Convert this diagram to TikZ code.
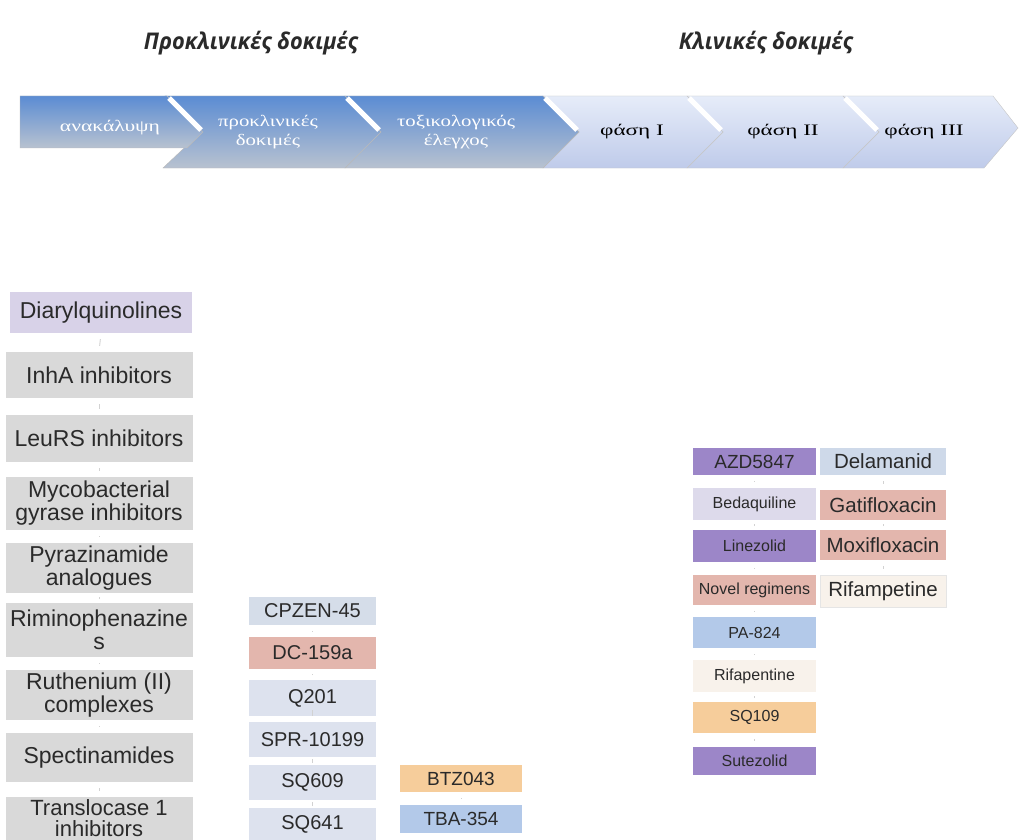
\documentclass[tikz,border=0pt]{standalone}
\usepackage{fontspec}
\setmainfont{Liberation Sans}
\newfontfamily\bandfont{Liberation Serif}
\newfontfamily\headfont{Open Sans}
\definecolor{txt}{HTML}{2A2A2A}
\definecolor{graybox}{HTML}{D9D9D9}
\definecolor{lav}{HTML}{D8D2E8}
\definecolor{lavlt}{HTML}{DDDAEB}
\definecolor{purp}{HTML}{9C86C8}
\definecolor{pinkb}{HTML}{E3B6AD}
\definecolor{bluelt}{HTML}{D5DDE9}
\definecolor{bluegr}{HTML}{DDE2EE}
\definecolor{blueb}{HTML}{B3C9E9}
\definecolor{orangeb}{HTML}{F6CD9B}
\definecolor{cream}{HTML}{F8F2EB}
\definecolor{bandtop}{HTML}{5B8CD3}
\definecolor{bandbot}{HTML}{B8C2D0}
\definecolor{lighttop}{HTML}{E6ECF9}
\definecolor{lightbot}{HTML}{BFCBEA}
\tikzset{
  box/.style={inner sep=0pt, align=center, text=txt},
  lbox/.style={box, fill=graybox, minimum width=187pt, font=\fontsize{23}{23}\selectfont},
  mbox/.style={box, minimum width=127pt, font=\fontsize{20}{21}\selectfont},
  nbox/.style={box, minimum width=122pt, font=\fontsize{19}{20}\selectfont},
  rbox/.style={box, minimum width=123pt, font=\fontsize{16}{17}\selectfont},
  sbox/.style={box, minimum width=126pt, font=\fontsize{20.5}{21}\selectfont},
  tick/.style={draw=gray!35, line width=0.9pt, shorten <=6pt, shorten >=6pt},
  head/.style={font=\headfont\bfseries\itshape\fontsize{23}{24}\selectfont, text=txt},
  bandw/.style={font=\bandfont\fontsize{16}{19}\selectfont, text=white, align=center},
  bandk/.style={font=\bandfont\fontsize{16}{19}\selectfont, text=black, align=center},
  darkseg/.style={top color=bandtop, bottom color=bandbot, draw=gray!55, line width=0.4pt},
  lightseg/.style={top color=lighttop, bottom color=lightbot, draw=gray!45, line width=0.4pt},
  bevel/.style={draw=white, line width=5pt, line cap=butt}
}
\begin{document}
\begin{tikzpicture}[x=1pt,y=-1pt]
\useasboundingbox (0,0) rectangle (1020,840);
\fill[white] (0,0) rectangle (1020,840);

% headers
\node[head] (h1) at (251,43) {\scalebox{0.95}[1]{Προκλινικές δοκιμές}};
\node[head] (h2) at (766,43) {\scalebox{0.95}[1]{Κλινικές δοκιμές}};

% process band
\path[lightseg] (843,96) -- (993,96) -- (1018,128) -- (984,168) -- (843,168) -- (879,132) -- cycle;
\path[lightseg] (687,96) -- (843,96) -- (879,132) -- (843,168) -- (687,168) -- (723,132) -- cycle;
\path[lightseg] (543,96) -- (687,96) -- (723,132) -- (687,168) -- (543,168) -- (579,132) -- cycle;
\path[darkseg] (345,96) -- (543,96) -- (579,132) -- (543,168) -- (345,168) -- (381,132) -- cycle;
\path[darkseg] (165,96) -- (345,96) -- (381,132) -- (345,168) -- (163,168) -- (201,132) -- cycle;
\path[darkseg] (20,96) -- (167,96) -- (203,132) -- (187,148) -- (20,148) -- cycle;
\draw[bevel] (169,98) -- (201,130);
\draw[bevel] (347,98) -- (379,130);
\draw[bevel] (545,98) -- (577,130);
\draw[bevel] (689,98) -- (721,130);
\draw[bevel] (845,98) -- (877,130);

\node[bandw] (s1) at (110,128) {\scalebox{1.35}[1]{ανακάλυψη}};
\node[bandw] (s2) at (268,132) {\scalebox{1.3}[1]{προκλινικές}\\\scalebox{1.3}[1]{δοκιμές}};
\node[bandw] (s3) at (456,132) {\scalebox{1.3}[1]{τοξικολογικός}\\\scalebox{1.3}[1]{έλεγχος}};
\node[bandk] (s4) at (632,132) {\scalebox{1.45}[1]{φάση I}};
\node[bandk] (s5) at (783,132) {\scalebox{1.45}[1]{φάση II}};
\node[bandk] (s6) at (924,132) {\scalebox{1.45}[1]{φάση III}};

% left column
\node[lbox, fill=lav, minimum width=182pt, minimum height=41pt] (a1) at (101,312.5) {Diarylquinolines};
\node[lbox, minimum height=46pt] (a2) at (99,375) {InhA inhibitors};
\node[lbox, minimum height=47pt] (a3) at (99,438.5) {LeuRS inhibitors};
\node[lbox, minimum height=53pt] (a4) at (99,503.5) {Mycobacterial\\gyrase inhibitors};
\node[lbox, minimum height=50pt] (a5) at (99,568) {Pyrazinamide\\analogues};
\node[lbox, minimum height=54pt] (a6) at (99,630) {Riminophenazine\\s};
\node[lbox, minimum height=50pt] (a7) at (99,695) {Ruthenium (II)\\complexes};
\node[lbox, minimum height=49pt] (a8) at (99,757.5) {Spectinamides};
\node[lbox, minimum height=43pt, font=\fontsize{22}{21}\selectfont] (a9) at (99,818.5) {Translocase 1\\inhibitors};
\foreach \p/\q in {a1/a2,a2/a3,a3/a4,a4/a5,a5/a6,a6/a7,a7/a8,a8/a9}
  \draw[tick] (\p.south) -- (\q.north);

% middle column 1
\node[mbox, fill=bluelt, minimum height=28pt] (b1) at (312.5,611) {CPZEN-45};
\node[mbox, fill=pinkb, minimum height=32pt] (b2) at (312.5,653) {DC-159a};
\node[mbox, fill=bluegr, minimum height=36pt] (b3) at (312.5,698) {Q201};
\node[mbox, fill=bluegr, minimum height=35pt] (b4) at (312.5,739.5) {SPR-10199};
\node[mbox, fill=bluegr, minimum height=35pt] (b5) at (312.5,782.5) {SQ609};
\node[mbox, fill=bluegr, minimum height=33pt] (b6) at (312.5,824.5) {SQ641};
\foreach \p/\q in {b1/b2,b2/b3,b3/b4,b4/b5,b5/b6}
  \draw[tick] (\p.south) -- (\q.north);

% middle column 2
\node[nbox, fill=orangeb, minimum height=27pt] (c1) at (461,778.5) {BTZ043};
\node[nbox, fill=blueb, minimum height=28pt] (c2) at (461,819) {TBA-354};
\draw[tick] (c1.south) -- (c2.north);

% right column A
\node[rbox, fill=purp, minimum height=27pt, font=\fontsize{19}{20}\selectfont] (d1) at (754.5,461.5) {AZD5847};
\node[rbox, fill=lavlt, minimum height=32pt] (d2) at (754.5,504) {Bedaquiline};
\node[rbox, fill=purp, minimum height=32pt] (d3) at (754.5,546) {Linezolid};
\node[rbox, fill=pinkb, minimum height=30pt] (d4) at (754.5,590) {Novel regimens};
\node[rbox, fill=blueb, minimum height=31pt] (d5) at (754.5,632.5) {PA-824};
\node[rbox, fill=cream, minimum height=32pt] (d6) at (754.5,676) {Rifapentine};
\node[rbox, fill=orangeb, minimum height=31pt] (d7) at (754.5,717.5) {SQ109};
\node[rbox, fill=purp, minimum height=28pt] (d8) at (754.5,761) {Sutezolid};
\foreach \p/\q in {d1/d2,d2/d3,d3/d4,d4/d5,d5/d6,d6/d7,d7/d8}
  \draw[tick] (\p.south) -- (\q.north);

% right column B
\node[sbox, fill=bluelt!80!blueb, minimum height=27pt] (e1) at (883,461.5) {Delamanid};
\node[sbox, fill=pinkb, minimum height=30pt] (e2) at (883,505) {Gatifloxacin};
\node[sbox, fill=pinkb, minimum height=30pt] (e3) at (883,545) {Moxifloxacin};
\node[sbox, fill=cream, draw=gray!20, minimum height=32pt] (e4) at (883,591) {Rifampetine};
\foreach \p/\q in {e1/e2,e2/e3,e3/e4}
  \draw[tick] (\p.south) -- (\q.north);
\end{tikzpicture}
\end{document}
